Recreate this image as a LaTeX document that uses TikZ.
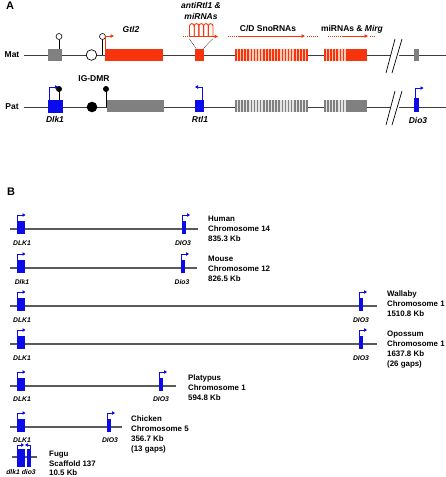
\documentclass[tikz,border=0pt]{standalone}
\usepackage{fontspec}
\setmainfont{Liberation Sans}
\usetikzlibrary{arrows.meta}
\definecolor{gblue}{RGB}{10,10,235}
\definecolor{gred}{RGB}{248,52,15}
\definecolor{lred}{RGB}{252,200,180}
\definecolor{ggrey}{RGB}{128,128,128}
\definecolor{lgrey}{RGB}{228,228,228}
\definecolor{lnc}{RGB}{60,60,60}
\definecolor{bln}{RGB}{90,90,90}
\tikzset{
  alab/.style={font=\bfseries\fontsize{8.5}{10}\selectfont, inner sep=0pt},
  ailab/.style={font=\bfseries\itshape\fontsize{8.5}{10}\selectfont, inner sep=0pt},
  blab/.style={font=\bfseries\fontsize{7.9}{9}\selectfont, inner sep=0pt, anchor=base west},
  bglab/.style={font=\bfseries\itshape\fontsize{6.8}{8}\selectfont, inner sep=0pt},
  panel/.style={font=\bfseries\fontsize{11}{12}\selectfont, inner sep=0pt},
  chrom/.style={lnc, line width=0.8pt},
  bchrom/.style={bln, line width=1.1pt},
  parrow/.style={gblue, line width=1pt, -{Triangle[length=3pt,width=3.5pt]}},
  rarrow/.style={gred, line width=1pt, -{Triangle[length=3.5pt,width=3.5pt]}},
  rdots/.style={gred, line width=1pt, dash pattern=on 1pt off 1pt},
  brk/.style={black, line width=0.7pt},
}
\newcommand\stripebox[6]{% x1 x2 ytop ybot fill line
  \fill[#5] (#1,#3) rectangle (#2,#4);
  \pgfmathsetmacro\nstr{int((#2-#1)/3.1)}
  \foreach \k in {0,...,\nstr}{
    \draw[#6, line width=1.6pt] ({#1+0.8+\k*3.1},#3) -- ({#1+0.8+\k*3.1},#4);
  }
}
\newcommand\generow[3]{% y, line end, dio3 x
  \draw[bchrom] (10,#1) -- (#2,#1);
  \fill[gblue] (17,#1-8) rectangle (25,#1+5);
  \draw[parrow] (17.6,#1-8) -- (17.6,#1-14) -- (25.5,#1-14);
  \fill[gblue] (#3,#1-8) rectangle (#3+4,#1+5);
  \draw[parrow] (#3+0.6,#1-8) -- (#3+0.6,#1-14) -- (#3+8,#1-14);
}
\begin{document}
\begin{tikzpicture}[x=1pt,y=-1pt]
\useasboundingbox (0,0) rectangle (446,477);
% ---------------- Panel A ----------------
\node[panel] (pa) at (10,6) {A};
\node[alab] (mat) at (12,55) {Mat};
\node[alab] (pat) at (12,107) {Pat};
\draw[chrom] (24,55) -- (446,55);
\draw[chrom] (24,107) -- (446,107);
% Mat
\fill[ggrey] (48,49) rectangle (62,61);
\draw[black, line width=0.6pt] (59,49) -- (59,39.5);
\draw[black, line width=0.6pt, fill=white] (59,36.5) circle (3);
\draw[black, line width=0.7pt, fill=white] (91.5,55) circle (5.3);
\draw[black, line width=0.6pt] (102.5,55) -- (102.5,39.5);
\draw[black, line width=0.6pt, fill=white] (102.5,36.5) circle (3);
\fill[gred] (105,49) rectangle (163,61);
\draw[rarrow] (105.8,49) -- (105.8,36) -- (114,36);
\node[ailab] (gtl2) at (131,29) {Gtl2};
\node[ailab, align=center, font=\bfseries\itshape\fontsize{8.5}{11.5}\selectfont] (anti) at (201,11) {antiRtl1 \&\\miRNAs};
% hairpins
\foreach \i in {0,...,4}{
  \draw[gred, line width=0.9pt] ({189.5+\i*4.7},36.5) -- ({189.5+\i*4.7},26) arc (180:360:2.35) -- ({189.5+\i*4.7+4.7},36.5);
}
\draw[rdots] (183,36.5) -- (189,36.5);
\draw[rarrow] (189,36.5) -- (218,36.5);
\draw[black, line width=0.4pt, dash pattern=on 1pt off 0.6pt] (189.5,39) -- (196,48.5);
\draw[black, line width=0.4pt, dash pattern=on 1pt off 0.6pt] (212.5,39) -- (203.5,48.5);
\fill[gred] (195,48.5) rectangle (204,60.5);
% snoRNAs
\stripebox{235}{308}{48.5}{60.5}{lred}{gred}
\node[alab] (snol) at (268,29) {C/D SnoRNAs};
\draw[rdots] (228,36) -- (238,36);
\draw[rarrow] (238,36) -- (305,36);
\draw[rdots] (307,36) -- (319,36);
\node[alab] (mirg) at (352,29) {miRNAs \& \textit{Mirg}};
\draw[rdots] (328,36) -- (343,36);
\draw[rarrow] (343,36) -- (368,36);
\draw[rdots] (370,36) -- (375,36);
\stripebox{324}{347}{48.5}{60.5}{lred}{gred}
\fill[gred] (347,48.5) rectangle (367,60.5);
\fill[white] (390,50) -- (398,50) -- (400,60) -- (392,60) -- cycle;
\draw[brk] (386,73) -- (395,39);
\draw[brk] (392,73) -- (402,39);
\fill[ggrey] (414,48.5) rectangle (419,61);
% Pat
\fill[gblue] (48,100) rectangle (63,113);
\draw[parrow] (49.5,100) -- (49.5,87) -- (58,87);
\draw[black, line width=0.6pt] (59,100) -- (59,91);
\fill[black] (59,89) circle (3);
\node[ailab] (dlk1) at (55,119) {Dlk1};
\fill[black] (92,107) circle (5.3);
\draw[black, line width=0.6pt] (106,107) -- (106,91);
\fill[black] (106,89) circle (3);
\node[alab] (igdmr) at (94,79) {IG-DMR};
\fill[ggrey] (107,100) rectangle (164,112);
\fill[gblue] (195,100) rectangle (204,112);
\draw[parrow] (202.5,100) -- (202.5,87) -- (195,87);
\node[ailab] (rtl1) at (200,119) {Rtl1};
\stripebox{235}{308}{100}{112}{lgrey}{ggrey}
\stripebox{324}{347}{100}{112}{lgrey}{ggrey}
\fill[ggrey] (347,100) rectangle (367,112);
\fill[white] (390,102) -- (398,102) -- (400,112) -- (392,112) -- cycle;
\draw[brk] (386,125) -- (395,91);
\draw[brk] (392,125) -- (402,91);
\fill[gblue] (414,98) rectangle (419,112);
\draw[parrow] (415,98) -- (415,88) -- (423.5,88);
\node[ailab] (dio3) at (418,120) {Dio3};
% ---------------- Panel B ----------------
\node[panel] (pb) at (11,192) {B};
% Human
\generow{229}{198}{182}
\node[bglab] (h1) at (22,243) {DLK1};
\node[bglab] (h2) at (183,243) {DIO3};
\node[blab] (h3) at (208,221) {Human};
\node[blab] (h4) at (208,231) {Chromosome 14};
\node[blab] (h5) at (208,241) {835.3 Kb};
% Mouse
\generow{268}{197}{181}
\node[bglab] (m1) at (22,282) {Dlk1};
\node[bglab] (m2) at (182,282) {Dio3};
\node[blab] (m3) at (208,261) {Mouse};
\node[blab] (m4) at (208,271.5) {Chromosome 12};
\node[blab] (m5) at (208,281) {826.5 Kb};
% Wallaby
\generow{306}{377}{359}
\node[bglab] (w1) at (22,320) {DLK1};
\node[bglab] (w2) at (361,320) {DIO3};
\node[blab] (w3) at (387,296) {Wallaby};
\node[blab] (w4) at (387,306) {Chromosome 1};
\node[blab] (w5) at (387,316) {1510.8 Kb};
% Opossum
\generow{344}{377}{359}
\node[bglab] (o1) at (22,358) {DLK1};
\node[bglab] (o2) at (361,358) {DIO3};
\node[blab] (o3) at (387,336) {Opossum};
\node[blab] (o4) at (387,346) {Chromosome 1};
\node[blab] (o5) at (387,356) {1637.8 Kb};
\node[blab] (o6) at (387,366) {(26 gaps)};
% Platypus
\generow{386}{176}{159}
\node[bglab] (p1) at (22,399) {DLK1};
\node[bglab] (p2) at (161,399) {DIO3};
\node[blab] (p3) at (188,380) {Platypus};
\node[blab] (p4) at (188,390) {Chromosome 1};
\node[blab] (p5) at (188,400) {594.8 Kb};
% Chicken
\generow{427}{122}{107}
\node[bglab] (c1) at (22,440) {DLK1};
\node[bglab] (c2) at (110,440) {DIO3};
\node[blab] (c3) at (131,421) {Chicken};
\node[blab] (c4) at (131,431) {Chromosome 5};
\node[blab] (c5) at (131,441) {356.7 Kb};
\node[blab] (c6) at (131,451) {(13 gaps)};
% Fugu
\draw[bchrom] (12,457) -- (37,457);
\fill[gblue] (17,449) rectangle (25,467);
\fill[gblue] (27,449) rectangle (31,467);
\draw[parrow] (17.6,449) -- (17.6,445) -- (24,445);
\draw[parrow] (30.4,449) -- (30.4,445) -- (25,445);
\node[bglab] (f1) at (21,472.5) {dlk1 dio3};
\node[blab] (f3) at (49,456.5) {Fugu};
\node[blab] (f4) at (49,466) {Scaffold 137};
\node[blab] (f5) at (49,475) {10.5 Kb};
\end{tikzpicture}
\end{document}
